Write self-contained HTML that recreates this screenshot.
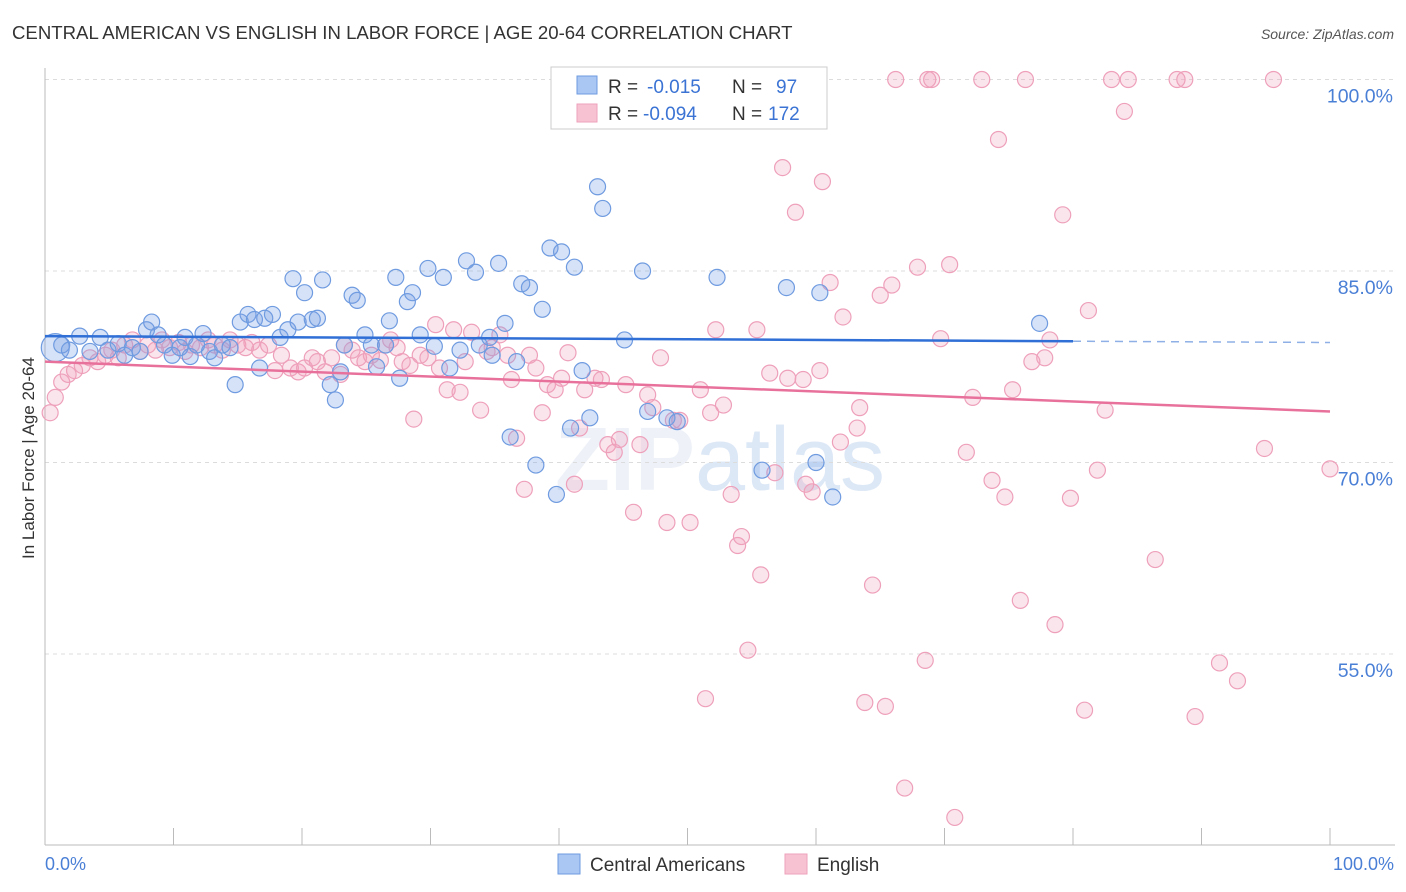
<!DOCTYPE html>
<html><head><meta charset="utf-8"><style>
body{margin:0;background:#fff;font-family:"Liberation Sans",sans-serif;}
#wrap{position:relative;width:1406px;height:892px;overflow:hidden;}
</style></head><body>
<div id="wrap">
<svg id="chart" width="1406" height="892">
<text x="12" y="39" font-size="18.6" fill="#333">CENTRAL AMERICAN VS ENGLISH IN LABOR FORCE | AGE 20-64 CORRELATION CHART</text>
<text x="1394" y="39" font-size="14" fill="#555" font-style="italic" text-anchor="end">Source: ZipAtlas.com</text>
<text x="720" y="490" font-size="90" fill="#eef2f8" text-anchor="middle" font-weight="bold">ZIP<tspan font-weight="normal" fill="#dde8f6">atlas</tspan></text>
<g id="grid"></g><g id="axes"></g><g id="pts"></g><g id="lines"></g>
<text transform="translate(34,458) rotate(-90)" font-size="17" fill="#333" text-anchor="middle">In Labor Force | Age 20-64</text>
<text x="45" y="870" font-size="18" fill="#4a7fd6">0.0%</text>
<text x="1394" y="870" font-size="18" fill="#4a7fd6" text-anchor="end">100.0%</text>
<g>
<rect x="551" y="67" width="276" height="62" fill="#fff" stroke="#ccc"/>
<rect x="577" y="76" width="20" height="18" fill="#aac6f2" stroke="#6f9be0"/>
<rect x="577" y="104" width="20" height="18" fill="#f7c3d3" stroke="#eea0bb"/>
<text x="608" y="93" font-size="19" fill="#333">R =</text>
<text x="647" y="93" font-size="19" fill="#3a73d4">-0.015</text>
<text x="732" y="93" font-size="19" fill="#333">N =</text>
<text x="776" y="93" font-size="19" fill="#3a73d4">97</text>
<text x="608" y="120" font-size="19" fill="#333">R =</text>
<text x="643" y="120" font-size="19" fill="#3a73d4">-0.094</text>
<text x="732" y="120" font-size="19" fill="#333">N =</text>
<text x="768" y="120" font-size="19" fill="#3a73d4">172</text>
</g>
<g>
<rect x="558" y="854" width="22" height="20" fill="#aac6f2" stroke="#6f9be0"/>
<text x="590" y="871" font-size="19" fill="#333">Central Americans</text>
<rect x="785" y="854" width="22" height="20" fill="#f7c3d3" stroke="#eea0bb"/>
<text x="817" y="871" font-size="19" fill="#333">English</text>
</g>
</svg></div>
<script>
const yTicks=[100,85,70,55];
const yTickLabels=["100.0%","85.0%","70.0%","55.0%"];
const xTicks=[0,10,20,30,40,50,60,70,80,90,100];
const blueX=[0.8,1.3,1.9,2.7,3.5,4.3,4.9,5.7,6.2,6.8,7.4,7.9,8.3,8.8,9.3,9.9,10.5,10.9,11.3,11.8,12.3,12.8,13.2,13.8,14.4,14.8,15.2,15.8,16.3,16.7,17.1,17.7,18.3,18.9,19.3,19.7,20.2,20.8,21.2,21.6,22.2,22.6,23.0,23.3,23.9,24.3,24.9,25.4,25.8,26.5,26.8,27.3,27.6,28.2,28.6,29.2,29.8,30.3,31.0,31.5,32.3,32.8,33.5,33.8,34.6,34.8,35.3,35.8,36.2,36.7,37.1,37.7,38.2,38.7,39.3,39.8,40.2,40.9,41.2,41.8,42.4,43.0,43.4,45.1,46.5,46.9,48.4,49.2,52.3,55.8,57.7,60.0,60.3,61.3,77.4];
const blueY=[79.0,79.2,78.8,79.9,78.7,79.8,78.8,79.3,78.4,79.0,78.7,80.4,81.0,80.0,79.2,78.4,79.0,79.8,78.3,79.2,80.1,78.7,78.2,79.2,79.0,76.1,81.0,81.6,81.2,77.4,81.3,81.6,79.8,80.4,84.4,81.0,83.3,81.2,81.3,84.3,76.1,74.9,77.1,79.2,83.1,82.7,80.0,79.2,77.5,79.2,81.1,84.5,76.6,82.6,83.3,80.0,85.2,79.1,84.5,77.4,78.8,85.8,84.9,79.2,79.8,78.4,85.6,80.9,72.0,77.9,84.0,83.7,69.8,82.0,86.8,67.5,86.5,72.7,85.3,77.2,73.5,91.6,89.9,79.6,85.0,74.0,73.5,73.2,84.5,69.4,83.7,70.0,83.3,67.3,80.9];
const pinkX=[0.4,0.8,1.3,1.8,2.3,2.9,3.5,4.1,4.7,5.2,5.7,6.2,6.8,7.4,8.0,8.6,9.1,9.7,10.4,10.9,11.4,12.1,12.7,13.2,13.8,14.4,15.0,15.6,16.1,16.7,17.4,17.9,18.4,19.1,19.7,20.2,20.8,21.2,21.8,22.3,23.0,23.3,23.9,24.4,24.9,25.4,26.1,26.5,26.9,27.4,27.8,28.4,28.7,29.2,29.8,30.4,30.7,31.3,31.8,32.3,32.7,33.2,33.9,34.4,34.8,35.4,36.0,36.3,36.7,37.3,37.7,38.2,38.7,39.1,39.7,40.2,40.7,41.2,41.6,42.0,42.8,43.3,43.8,44.3,44.7,45.2,45.8,46.3,46.9,47.3,47.9,48.4,48.9,49.4,50.2,51.0,51.4,51.8,52.2,52.8,53.4,53.9,54.2,54.7,55.4,55.7,56.4,56.8,57.4,57.8,58.4,59.0,59.2,59.7,60.3,60.5,61.1,62.1,61.9,63.2,63.4,63.8,64.4,65.0,65.4,65.9,66.2,66.9,67.9,68.5,68.7,69.0,69.7,70.4,70.8,71.7,72.2,72.9,73.7,74.2,74.7,75.3,75.9,76.3,76.8,77.8,78.2,78.6,79.2,79.8,80.9,81.2,81.9,82.5,83.0,84.0,84.3,86.4,88.1,88.7,89.5,91.4,92.8,94.9,95.6,100.0];
const pinkY=[73.9,75.1,76.3,76.9,77.2,77.6,78.2,77.9,78.4,78.8,78.2,79.2,79.6,78.7,79.2,78.8,79.6,79.0,79.4,78.7,79.2,79.0,79.6,79.2,78.8,79.6,79.2,79.0,79.4,78.8,79.2,77.2,78.4,77.4,77.1,77.4,78.2,77.9,77.1,78.2,76.9,79.2,78.8,78.2,77.9,78.4,78.0,79.2,79.6,79.0,77.9,77.6,73.4,78.4,78.2,80.8,77.4,75.7,80.4,75.5,77.9,80.2,74.1,78.7,79.0,80.0,78.4,76.5,71.9,67.9,78.4,77.4,73.9,76.1,75.7,76.6,78.6,68.3,72.7,75.7,76.6,76.5,71.4,70.8,71.8,76.1,66.1,71.4,75.3,74.3,78.2,65.3,73.3,73.3,65.3,75.7,51.5,73.9,80.4,74.5,67.5,63.5,64.2,55.3,80.4,61.2,77.0,69.2,93.1,76.6,89.6,76.5,68.3,67.7,77.2,92.0,84.1,81.4,71.6,72.7,74.3,51.2,60.4,83.1,50.9,83.9,100,44.5,85.3,54.5,100,100,79.7,85.5,42.2,70.8,75.1,100,68.6,95.3,67.3,75.7,59.2,100,77.9,78.2,79.6,57.3,89.4,67.2,50.6,81.9,69.4,74.1,100,97.5,100,62.4,100,100,50.1,54.3,52.9,71.1,100,69.5];
const blueFit=[79.9,79.5,79.4];
const pinkFit=[77.9,74.0];
const X0=45,X1=1330,Yref=79.5,pxPer=12.767;
const sx=v=>X0+(X1-X0)*v/100;
const sy=v=>Yref+(100-v)*pxPer;
const NS="http://www.w3.org/2000/svg";
function mk(p,tag,at){const e=document.createElementNS(NS,tag);for(const k in at)e.setAttribute(k,at[k]);p.appendChild(e);return e;}
const grid=document.getElementById('grid'),axes=document.getElementById('axes'),pts=document.getElementById('pts'),lines=document.getElementById('lines');
yTicks.forEach((t,i)=>{
 const l=mk(grid,'line',{x1:45,x2:1395,y1:sy(t),y2:sy(t),stroke:'#dcdcdc','stroke-dasharray':'4,4'});
 
 
 const tx=mk(grid,'text',{x:1393,y:sy(t)+23,'font-size':19.5,fill:'#4a7fd6','text-anchor':'end'});
 tx.textContent=yTickLabels[i];
 
 
});
const ax=mk(axes,'line',{x1:45,x2:1395,y1:845,y2:845,stroke:'#bbb'});


const ay=mk(axes,'line',{x1:45,x2:45,y1:68,y2:845,stroke:'#bbb'});


xTicks.forEach(t=>{
 const k=mk(axes,'line',{x1:sx(t),x2:sx(t),y1:828,y2:845,stroke:'#bbb'});
 
 
});
pinkX.forEach((x,i)=>{
 const c=mk(pts,'circle',{cx:sx(x),cy:sy(pinkY[i]),r:8,fill:'rgba(242,160,188,0.28)',stroke:'#eea0bb','stroke-width':1.2});
 
 
});
blueX.forEach((x,i)=>{
 const c=mk(pts,'circle',{cx:sx(x),cy:sy(blueY[i]),r:i==0?14:8,fill:'rgba(120,160,230,0.3)',stroke:'#6f9be0','stroke-width':1.2});
 
 
});
const bl=mk(lines,'line',{x1:sx(0),y1:sy(blueFit[0]),x2:sx(80),y2:sy(blueFit[1]),stroke:'#2f6fd6','stroke-width':2.5});


const bd=mk(lines,'line',{x1:sx(80),y1:sy(blueFit[1]),x2:sx(100),y2:sy(blueFit[2]),stroke:'#8fb0e6','stroke-width':1.5,'stroke-dasharray':'8,6'});


const pl=mk(lines,'line',{x1:sx(0),y1:sy(pinkFit[0]),x2:sx(100),y2:sy(pinkFit[1]),stroke:'#e8719c','stroke-width':2.5});


</script>
</body></html>
